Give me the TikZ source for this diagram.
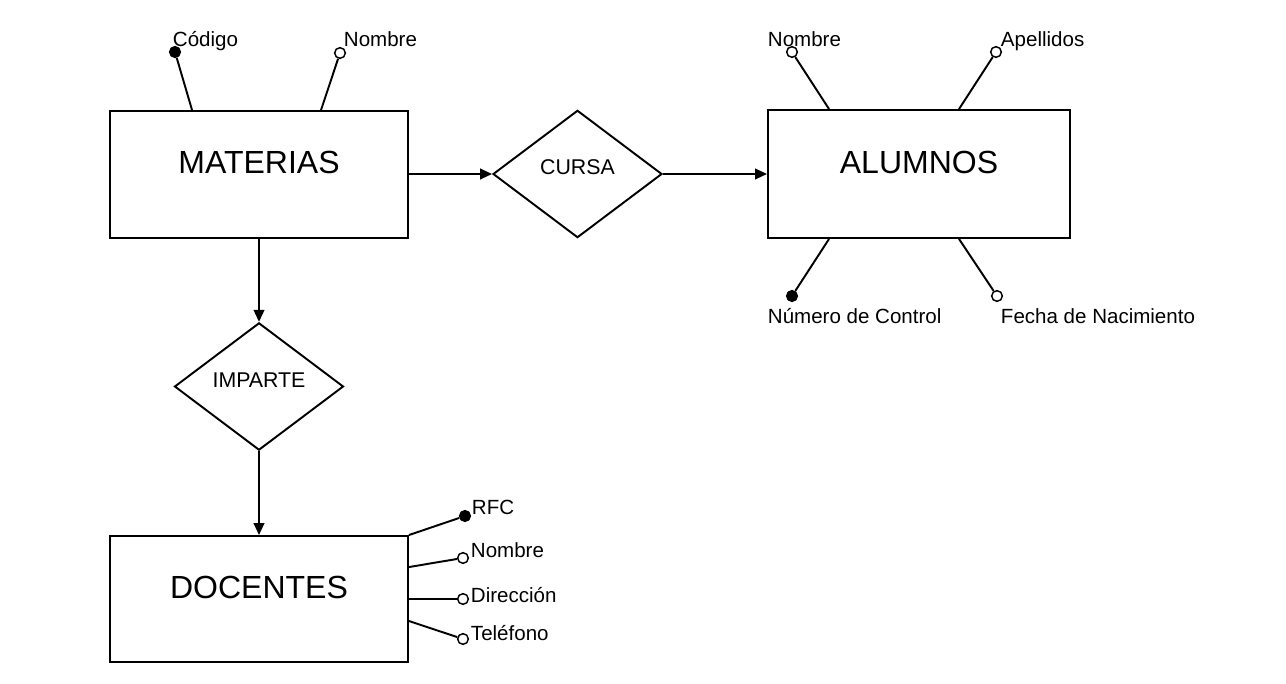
\documentclass[tikz,border=0pt]{standalone}
\usepackage{fontspec}
\setmainfont{Liberation Sans}
\usetikzlibrary{shapes.geometric,arrows.meta}

\begin{document}
\begin{tikzpicture}[x=0.75pt,y=-0.75pt,line width=1.45pt,>={Triangle[length=9pt,width=8pt]},
  entity/.style={draw,rectangle,minimum width=223.5pt,minimum height=95.25pt,
    font=\fontsize{24}{28}\selectfont,text depth=18pt},
  rel/.style={draw,diamond,aspect=1.32,inner sep=0pt,minimum width=126.75pt,minimum height=95.5pt,
    font=\fontsize{16}{19}\selectfont,text depth=10pt},
  attr/.style={circle,draw,fill=white,inner sep=0pt,minimum size=8pt,line width=1.1pt},
  keyattr/.style={attr,fill=black},
  lbl/.style={anchor=base west,inner sep=0pt,font=\fontsize{15.4}{18}\selectfont}]
\useasboundingbox (0,0) rectangle (1286,684);

% entidades y relaciones
\node[entity] (mat) at (259,174.5) {MATERIAS};
\node[entity,minimum width=226.5pt,minimum height=96pt] (alu) at (919,174) {ALUMNOS};
\node[entity,minimum height=94.5pt] (doc) at (259,599) {DOCENTES};
\node[rel] (cursa) at (577.5,174) {CURSA};
\node[rel] (imparte) at (259,386.5) {IMPARTE};

\draw[->] (mat.east |- cursa.west) -- (cursa.west);
\draw[->] (cursa.east) -- (alu.west |- cursa.east);
\draw[->] (mat.south) -- (imparte.north);
\draw[->] (imparte.south) -- (doc.north);

% atributos de MATERIAS
\node[keyattr] (mcod) at (175,52) {};
\node[attr] (mnom) at (340,53) {};
\draw (mcod) -- ([xshift=62.25pt]mat.north west);
\draw (mnom) -- ([xshift=159pt]mat.north west);
\node[lbl] (tmcod) at (172,47) {Código};
\node[lbl] (tmnom) at (343,47) {Nombre};

% atributos de ALUMNOS
\node[attr] (anom) at (792,52) {};
\node[attr] (aape) at (996,52) {};
\node[keyattr] (anum) at (792,296) {};
\node[attr] (afec) at (997,296) {};
\draw (anom) -- ([xshift=46.5pt]alu.north west);
\draw (aape) -- ([xshift=144pt]alu.north west);
\draw (anum) -- ([xshift=46.5pt]alu.south west);
\draw (afec) -- ([xshift=144pt]alu.south west);
\node[lbl] (tanom) at (767,47) {Nombre};
\node[lbl] (taape) at (1000,47) {Apellidos};
\node[lbl] (tanum) at (767,324) {Número de Control};
\node[lbl] (tafec) at (1000,324) {Fecha de Nacimiento};

% atributos de DOCENTES
\node[keyattr] (drfc) at (465,516) {};
\node[attr] (dnom) at (463,558) {};
\node[attr] (ddir) at (463,599) {};
\node[attr] (dtel) at (463,639) {};
\draw (drfc) -- (doc.north east);
\draw (dnom) -- ([yshift=-24pt]doc.north east);
\draw (ddir) -- (doc.east |- ddir);
\draw (dtel) -- ([yshift=-64.5pt]doc.north east);
\node[lbl] (tdrfc) at (471,514) {RFC};
\node[lbl] (tdnom) at (470,557) {Nombre};
\node[lbl] (tddir) at (470,602) {Dirección};
\node[lbl] (tdtel) at (470,640) {Teléfono};
\end{tikzpicture}
\end{document}
